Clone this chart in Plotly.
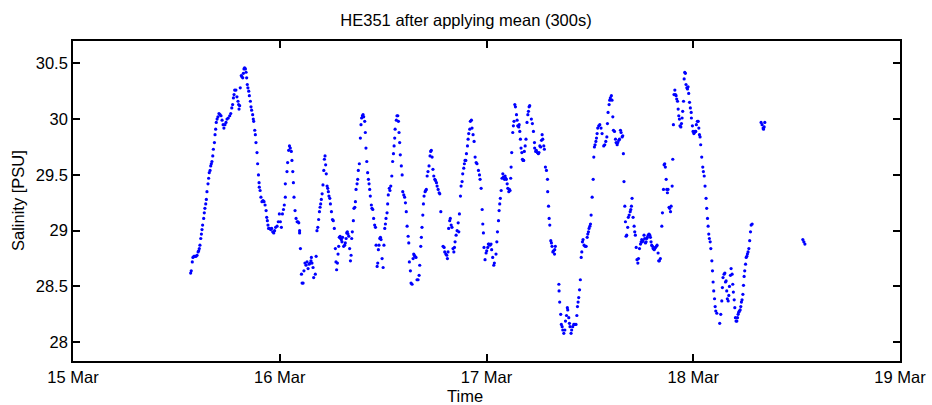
import numpy as np
import plotly.graph_objects as go

# (day of March 2011, salinity PSU) readings, 300 s means
seg_a = [(15.569,28.62),(15.572,28.64),(15.577,28.72),(15.580,28.76),(15.585,28.77),(15.590,28.77),(15.595,28.77),(15.600,28.78),(15.605,28.81),(15.608,28.82),(15.611,28.84),(15.614,28.87),(15.618,28.93),(15.621,28.97),(15.624,29.01),(15.627,29.05),(15.632,29.11),(15.635,29.16),(15.638,29.20),(15.642,29.24),(15.645,29.28),(15.648,29.35),(15.653,29.42),(15.656,29.47),(15.659,29.52),(15.663,29.54),(15.666,29.58),(15.669,29.60),(15.672,29.62),(15.676,29.67),(15.679,29.73),(15.684,29.79),(15.687,29.86),(15.690,29.91),(15.693,29.97),(15.697,30.00),(15.701,30.02),(15.706,30.05),(15.711,30.04),(15.716,30.03),(15.721,29.99),(15.726,29.95),(15.730,29.92),(15.735,29.95),(15.740,29.97),(15.745,30.00),(15.751,30.01),(15.758,30.03),(15.763,30.05),(15.768,30.10),(15.772,30.13),(15.776,30.19),(15.779,30.22),(15.782,30.26),(15.788,30.26),(15.793,30.20),(15.798,30.16),(15.801,30.13),(15.803,30.09),(15.806,30.12),(15.809,30.28),(15.814,30.39),(15.817,30.38),(15.821,30.37),(15.824,30.41),(15.827,30.45),(15.830,30.46),(15.834,30.45),(15.837,30.42),(15.840,30.37),(15.843,30.31),(15.846,30.28),(15.850,30.25),(15.853,30.21),(15.858,30.16),(15.861,30.11),(15.864,30.08),(15.869,30.04),(15.872,30.00),(15.874,29.98),(15.879,29.90),(15.882,29.86),(15.885,29.79),(15.890,29.70),(15.893,29.60),(15.897,29.50),(15.900,29.43),(15.901,29.39),(15.905,29.36),(15.909,29.30),(15.914,29.26),(15.919,29.27),(15.924,29.26),(15.929,29.23),(15.934,29.18),(15.937,29.12),(15.940,29.09),(15.943,29.05),(15.946,29.02),(15.951,29.02),(15.956,29.01),(15.961,29.02),(15.966,28.99),(15.971,28.98),(15.975,29.00),(15.980,29.03),(15.987,29.04),(15.993,29.08),(15.998,29.15),(16.003,29.08),(16.008,29.03),(16.013,29.15),(16.018,29.19),(16.022,29.23),(16.027,29.30)]

seg_b = [(16.027,29.42),(16.035,29.53),(16.038,29.61),(16.043,29.72),(16.047,29.76),(16.051,29.74),(16.056,29.71),(16.059,29.63),(16.063,29.53),(16.066,29.43),(16.069,29.30),(16.074,29.18),(16.079,29.11),(16.084,29.08),(16.088,29.08),(16.092,29.07),(16.096,29.00),(16.096,28.98),(16.100,28.84),(16.105,28.61),(16.108,28.53),(16.113,28.53),(16.117,28.64),(16.122,28.71),(16.127,28.69),(16.132,28.72),(16.137,28.66),(16.142,28.70),(16.147,28.71),(16.151,28.73),(16.153,28.76),(16.156,28.71),(16.161,28.67),(16.164,28.58),(16.172,28.61),(16.176,28.77),(16.180,29.00),(16.184,29.03),(16.188,29.10),(16.192,29.17),(16.195,29.21),(16.198,29.24),(16.201,29.28),(16.205,29.33),(16.209,29.41),(16.213,29.54),(16.216,29.64),(16.219,29.67),(16.222,29.59),(16.225,29.51),(16.229,29.40),(16.232,29.38),(16.235,29.35),(16.238,29.31),(16.242,29.29),(16.245,29.24),(16.250,29.17),(16.255,29.10),(16.259,29.09),(16.264,29.02),(16.269,28.84),(16.272,28.72),(16.275,28.65),(16.279,28.71),(16.282,28.79),(16.285,28.86),(16.288,28.94),(16.292,28.95),(16.295,28.93),(16.298,28.92),(16.301,28.90),(16.304,28.94),(16.309,28.86),(16.314,28.87),(16.317,28.89),(16.321,28.93),(16.324,28.98),(16.327,28.99),(16.330,28.97),(16.334,28.95),(16.338,28.84),(16.342,28.73),(16.345,28.78),(16.348,28.93),(16.351,28.99),(16.356,29.09),(16.359,29.20),(16.363,29.21),(16.366,29.26),(16.369,29.37),(16.374,29.42),(16.377,29.46),(16.380,29.54),(16.385,29.60),(16.390,29.83),(16.393,29.95),(16.396,30.01),(16.400,30.03),(16.403,30.04),(16.406,30.02),(16.411,29.98),(16.414,29.88),(16.417,29.74),(16.421,29.62),(16.425,29.52),(16.429,29.46),(16.432,29.42),(16.435,29.37),(16.438,29.31),(16.443,29.23),(16.446,29.20),(16.450,29.19),(16.454,29.11),(16.459,29.05),(16.463,29.03),(16.466,28.87),(16.471,28.68),(16.474,28.71),(16.477,28.83),(16.480,28.87),(16.484,28.93),(16.487,28.94),(16.490,28.92),(16.495,28.75),(16.500,28.67),(16.504,28.87),(16.508,29.02),(16.511,29.06),(16.514,29.11),(16.519,29.16),(16.522,29.24),(16.525,29.32),(16.530,29.38),(16.533,29.36),(16.537,29.40),(16.542,29.49),(16.546,29.62),(16.550,29.69),(16.553,29.76),(16.556,29.83),(16.558,29.91)]

seg_c = [(16.564,29.99),(16.567,30.03),(16.571,30.03),(16.574,29.98),(16.577,29.88),(16.580,29.79),(16.583,29.68),(16.588,29.58),(16.592,29.50),(16.595,29.35),(16.600,29.32),(16.604,29.30),(16.608,29.25),(16.612,29.17),(16.616,29.04),(16.621,28.95),(16.624,28.89),(16.627,28.72),(16.632,28.64),(16.635,28.53),(16.640,28.52),(16.645,28.75),(16.648,28.79),(16.651,28.78),(16.654,28.77),(16.659,28.76),(16.664,28.56),(16.669,28.56),(16.674,28.60),(16.677,28.69),(16.682,28.86),(16.685,28.94),(16.688,29.03),(16.692,29.14),(16.695,29.24),(16.698,29.31),(16.703,29.35),(16.706,29.36),(16.709,29.37),(16.713,29.49),(16.717,29.53),(16.722,29.58),(16.727,29.67),(16.730,29.71),(16.733,29.72),(16.737,29.66),(16.741,29.55),(16.745,29.49),(16.750,29.46),(16.753,29.45),(16.758,29.43),(16.761,29.40),(16.766,29.37),(16.771,29.34),(16.774,29.33),(16.779,29.17),(16.790,28.86),(16.795,28.85),(16.798,28.81),(16.803,28.79),(16.808,28.78),(16.811,28.75),(16.814,28.81),(16.817,29.02),(16.822,29.09),(16.825,29.11),(16.829,29.05),(16.833,29.03),(16.838,28.84),(16.842,28.81),(16.845,28.85),(16.848,28.90),(16.853,28.96),(16.858,29.00),(16.863,29.07),(16.866,28.99),(16.869,29.15),(16.874,29.31),(16.877,29.40),(16.882,29.44),(16.885,29.51),(16.890,29.56),(16.893,29.60),(16.896,29.63),(16.900,29.63),(16.903,29.69),(16.908,29.76),(16.911,29.82),(16.914,29.87),(16.919,29.91),(16.922,29.98),(16.927,29.99),(16.930,29.92),(16.935,29.86),(16.940,29.80),(16.945,29.66),(16.950,29.61),(16.954,29.60),(16.961,29.54),(16.966,29.50),(16.969,29.46),(16.974,29.38),(16.979,29.19),(16.982,29.06),(16.985,28.98),(16.988,28.85),(16.993,28.74),(16.998,28.80),(17.001,28.82),(17.006,28.85),(17.009,28.88),(17.012,28.88),(17.017,28.87),(17.022,28.88),(17.025,28.83),(17.030,28.76),(17.035,28.69),(17.038,28.71)]

seg_d = [(17.046,28.79),(17.050,28.90),(17.053,28.99),(17.058,29.09),(17.061,29.18),(17.064,29.24),(17.067,29.29),(17.071,29.36),(17.075,29.47),(17.079,29.51),(17.082,29.48),(17.087,29.46),(17.090,29.49),(17.093,29.47),(17.096,29.46),(17.100,29.42),(17.103,29.38),(17.108,29.35),(17.111,29.37),(17.114,29.36),(17.117,29.47),(17.119,29.57),(17.122,29.70),(17.127,29.88),(17.130,29.94),(17.133,29.98),(17.137,30.13),(17.140,30.11),(17.145,30.04),(17.148,29.99),(17.151,29.94),(17.156,29.93),(17.158,29.95),(17.161,29.89),(17.164,29.82),(17.167,29.74),(17.171,29.70),(17.174,29.64),(17.177,29.63),(17.180,29.63),(17.183,29.71),(17.187,29.76),(17.191,29.82),(17.196,29.97),(17.200,30.04),(17.203,30.07),(17.206,30.11),(17.209,30.12),(17.217,30.00),(17.222,29.96),(17.227,29.89),(17.232,29.79),(17.233,29.74),(17.238,29.71),(17.241,29.72),(17.246,29.70),(17.251,29.69),(17.254,29.70),(17.258,29.76),(17.262,29.75),(17.266,29.81),(17.269,29.86),(17.272,29.82),(17.277,29.76),(17.280,29.73),(17.285,29.57),(17.290,29.54),(17.295,29.46),(17.296,29.35),(17.300,29.22),(17.303,29.11),(17.306,29.05),(17.311,28.91),(17.314,28.89),(17.317,28.86),(17.321,28.81),(17.324,28.82),(17.329,28.79),(17.330,28.83),(17.333,28.86),(17.350,28.52),(17.351,28.46),(17.354,28.36),(17.359,28.25),(17.362,28.16),(17.366,28.14),(17.369,28.11),(17.374,28.08),(17.379,28.11),(17.382,28.19),(17.387,28.24),(17.391,28.31),(17.393,28.29),(17.398,28.22),(17.401,28.17),(17.404,28.14),(17.409,28.08),(17.412,28.11),(17.417,28.14),(17.422,28.16),(17.427,28.16),(17.433,28.16),(17.437,28.24),(17.440,28.32),(17.443,28.36),(17.446,28.40),(17.450,28.47),(17.454,28.56),(17.458,28.76),(17.461,28.81),(17.464,28.90),(17.467,28.92),(17.472,28.87),(17.477,28.86),(17.482,28.86),(17.487,28.94),(17.490,28.97),(17.493,28.99),(17.496,29.02),(17.500,29.04),(17.503,29.06),(17.506,29.14),(17.511,29.30),(17.516,29.46),(17.519,29.66),(17.522,29.75),(17.525,29.77),(17.529,29.80),(17.532,29.83),(17.535,29.87),(17.538,29.92),(17.543,29.94),(17.548,29.95)]

seg_e = [(17.554,29.92),(17.559,29.87),(17.567,29.76),(17.572,29.77),(17.577,29.80),(17.582,29.84),(17.585,29.96),(17.588,30.06),(17.593,30.13),(17.596,30.17),(17.599,30.19),(17.604,30.21),(17.607,30.17),(17.611,30.02),(17.614,29.90),(17.619,29.89),(17.624,29.82),(17.627,29.79),(17.632,29.77),(17.635,29.79),(17.640,29.81),(17.643,29.82),(17.648,29.90),(17.651,29.88),(17.656,29.84),(17.659,29.85),(17.662,29.69),(17.665,29.44),(17.669,29.22),(17.672,29.08),(17.675,28.95),(17.678,28.96),(17.683,29.03),(17.686,29.12),(17.690,29.14),(17.695,29.17),(17.698,29.19),(17.701,29.22),(17.704,29.29),(17.709,29.12),(17.714,29.04),(17.717,28.99),(17.720,28.96),(17.724,28.85),(17.728,28.74),(17.732,28.71),(17.735,28.75),(17.740,28.84),(17.745,28.88),(17.748,28.90),(17.751,28.92),(17.754,28.90),(17.757,28.91),(17.762,28.96),(17.765,28.93),(17.769,28.89),(17.772,28.90),(17.775,28.93),(17.778,28.94),(17.782,28.96),(17.786,28.97),(17.790,28.96),(17.793,28.94),(17.796,28.90),(17.799,28.87),(17.803,28.86),(17.806,28.84),(17.811,28.83),(17.814,28.84),(17.817,28.85),(17.822,28.86),(17.825,28.87),(17.830,28.80),(17.833,28.73),(17.836,28.73),(17.841,28.75),(17.848,29.04),(17.851,29.16),(17.856,29.37),(17.859,29.59),(17.862,29.60),(17.865,29.57),(17.869,29.46),(17.872,29.37),(17.875,29.34),(17.878,29.37),(17.883,29.21),(17.886,29.20),(17.890,29.17),(17.893,29.22),(17.898,29.40),(17.901,29.64),(17.904,29.95),(17.907,30.22),(17.911,30.26),(17.914,30.22),(17.917,30.21),(17.920,30.18),(17.924,30.16),(17.927,30.09),(17.930,30.03),(17.933,30.00),(17.936,29.94),(17.940,29.93),(17.943,29.96),(17.946,30.01),(17.949,30.07),(17.953,30.16),(17.956,30.36),(17.959,30.42),(17.962,30.41),(17.965,30.31),(17.969,30.28),(17.972,30.27),(17.975,30.29),(17.978,30.23),(17.982,30.15),(17.986,30.10),(17.990,30.06),(17.991,30.01),(17.996,29.94),(17.999,29.89),(18.003,29.87),(18.006,29.88),(18.009,29.89),(18.012,29.89),(18.015,29.95),(18.020,29.98),(18.024,29.98),(18.027,29.92),(18.030,29.86),(18.033,29.84),(18.036,29.77),(18.041,29.66),(18.046,29.57),(18.049,29.53),(18.053,29.49),(18.057,29.40)]

seg_f = [(18.062,29.29),(18.065,29.20),(18.069,29.11),(18.072,29.04),(18.075,28.97),(18.078,28.93),(18.082,28.90),(18.085,28.84),(18.090,28.73),(18.093,28.64),(18.096,28.54),(18.099,28.46),(18.103,28.39),(18.106,28.32),(18.109,28.28),(18.114,28.26),(18.128,28.17),(18.133,28.25),(18.138,28.37),(18.141,28.49),(18.144,28.58),(18.149,28.61),(18.153,28.62),(18.156,28.54),(18.159,28.55),(18.162,28.46),(18.165,28.39),(18.169,28.37),(18.172,28.42),(18.175,28.50),(18.180,28.60),(18.183,28.66),(18.188,28.61),(18.191,28.52),(18.194,28.45),(18.198,28.38),(18.201,28.31),(18.204,28.22),(18.207,28.19),(18.211,28.19),(18.214,28.22),(18.217,28.25),(18.220,28.27),(18.223,28.28),(18.227,28.29),(18.230,28.32),(18.233,28.36),(18.236,28.38),(18.240,28.43),(18.243,28.51),(18.246,28.59),(18.249,28.64),(18.253,28.70),(18.256,28.76),(18.259,28.77),(18.262,28.79),(18.265,28.81),(18.269,28.84),(18.273,28.91),(18.277,28.99),(18.280,29.05),(18.285,29.06)]

seg_g = [(18.328,29.97),(18.333,29.95),(18.338,29.92),(18.340,29.91),(18.343,29.93),(18.346,29.97)]

seg_h = [(18.530,28.92),(18.535,28.90),(18.540,28.88)]

x_tick_days = [15, 16, 17, 18, 19]
x_tick_labels = ["15 Mar", "16 Mar", "17 Mar", "18 Mar", "19 Mar"]
y_tick_vals = [28, 28.5, 29, 29.5, 30, 30.5]
y_tick_labels = ["28", "28.5", "29", "29.5", "30", "30.5"]

readings = seg_a + seg_b + seg_c + seg_d + seg_e + seg_f + seg_g + seg_h
day = np.array([r[0] for r in readings])
sal = np.array([r[1] for r in readings])

base = np.datetime64("2011-03-01T00:00:00")


def to_time(d):
    return base + (np.asarray(d, dtype=float) - 1.0) * np.timedelta64(86400000, "ms")


times = to_time(day)

fig = go.Figure()
fig.add_trace(go.Scatter(
    x=times, y=sal, mode="markers",
    marker=dict(color="rgb(0,0,255)", size=3.2, line=dict(width=0)),
    hoverinfo="x+y",
))

font_family = "Liberation Sans, Arial, Helvetica, sans-serif"
fs = 16.5
fig.update_layout(
    width=932, height=405,
    margin=dict(l=73, r=32, t=41, b=44, autoexpand=False),
    paper_bgcolor="white", plot_bgcolor="white",
    font=dict(family=font_family, size=fs, color="black"),
    showlegend=False,
    title=dict(text="HE351 after applying mean (300s)", xref="container", x=0.5,
               xanchor="center", yref="container", y=1 - 20 / 405, yanchor="middle",
               font=dict(family=font_family, size=fs, color="black")),
    xaxis=dict(
        type="date", automargin=False,
        range=[to_time(x_tick_days[0]), to_time(x_tick_days[-1])],
        tickmode="array", tickvals=to_time(x_tick_days), ticktext=x_tick_labels,
        ticks="inside", ticklen=7, tickwidth=1.6, tickcolor="black",
        showline=True, linewidth=1.6, linecolor="black", mirror="ticks",
        showgrid=False, zeroline=False,
    ),
    yaxis=dict(
        automargin=False,
        range=[27.832, 30.70],
        tickmode="array", tickvals=y_tick_vals, ticktext=y_tick_labels,
        ticks="inside", ticklen=7, tickwidth=1.6, tickcolor="black",
        showline=True, linewidth=1.6, linecolor="black", mirror="ticks",
        showgrid=False, zeroline=False,
    ),
    annotations=[
        dict(text="Time", xref="paper", yref="paper", x=(465 - 73) / 827, y=(361 - 396) / 320,
             xanchor="center", yanchor="middle", showarrow=False,
             font=dict(family=font_family, size=fs, color="black")),
        dict(text="Salinity [PSU]", xref="paper", yref="paper", x=(18 - 73) / 827, y=0.5,
             xanchor="center", yanchor="middle", textangle=-90, showarrow=False,
             font=dict(family=font_family, size=fs, color="black")),
    ],
)

fig.write_html(
    "out.html",
    config={"displayModeBar": False},
    post_script="document.body.style.margin='0px';document.body.style.padding='0px';"
                "document.body.style.overflow='hidden';",
)
